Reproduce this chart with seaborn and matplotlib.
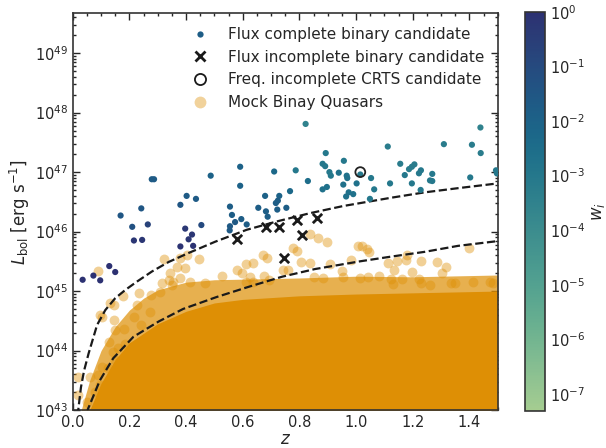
import numpy as np
import matplotlib
matplotlib.use("Agg")
import matplotlib.pyplot as plt
import seaborn as sns
from matplotlib.colors import LogNorm
from matplotlib.lines import Line2D
from matplotlib.ticker import MultipleLocator, LogLocator, NullFormatter
from matplotlib.cm import ScalarMappable

# ---------------- data ----------------
# Flux complete binary candidates: redshift, log10 L_bol, log10 w_i
cand_z = [0.822, 0.279, 0.287, 0.487, 0.591, 0.591, 0.711, 0.787, 0.830, 0.893,
          0.882, 0.891, 0.906, 0.911, 0.939, 0.957, 0.967, 0.969, 0.955, 1.002,
          1.015, 1.053, 1.064, 1.112, 1.120, 1.156, 1.172, 1.187, 1.197, 1.206,
          1.222, 1.229, 1.269, 1.261, 1.269, 1.197, 1.228, 1.310, 1.409, 1.439,
          1.440, 1.403, 1.494, 1.497, 1.049, 0.965, 0.974, 0.990, 0.402, 0.435,
          0.679, 0.729, 0.767, 0.169, 0.210, 0.216, 0.242, 0.245, 0.265, 0.380,
          0.397, 0.380, 0.409, 0.421, 0.425, 0.454, 0.555, 0.562, 0.573, 0.555,
          0.554, 0.595, 0.614, 0.655, 0.682, 0.688, 0.717, 0.724, 0.722, 0.754,
          0.129, 0.150, 0.035, 0.073, 0.097, 0.882, 0.897]
cand_logL = [47.81, 46.88, 46.88, 46.94, 47.09, 46.77, 47.01, 47.03, 46.85, 47.32,
             47.14, 47.10, 47.00, 46.94, 46.99, 47.19, 46.94, 46.90, 46.79, 46.81,
             46.96, 46.90, 46.71, 47.43, 46.81, 47.14, 46.95, 47.05, 47.09, 47.13,
             46.98, 47.03, 46.97, 46.86, 46.85, 46.81, 46.70, 47.47, 47.46, 47.75,
             47.32, 46.91, 47.03, 46.98, 46.55, 46.59, 46.66, 46.63, 46.60, 46.55,
             46.60, 46.60, 46.68, 46.27, 46.08, 45.85, 46.39, 45.86, 46.12, 46.45,
             46.05, 45.75, 45.87, 45.95, 45.76, 46.11, 46.42, 46.28, 46.16, 46.09,
             46.02, 46.21, 46.12, 46.40, 46.34, 46.25, 46.48, 46.52, 46.37, 46.40,
             45.42, 45.32, 45.19, 45.26, 45.18, 46.71, 46.75]
cand_logw = [-3.5, -1.7, -1.7, -2.0, -2.0, -2.0, -2.3, -3.0, -2.5, -3.0,
             -3.0, -3.0, -3.0, -3.0, -2.7, -3.0, -2.7, -2.7, -2.7, -2.7,
             -3.0, -3.0, -3.0, -3.2, -3.0, -3.2, -3.0, -3.2, -3.2, -3.2,
             -3.0, -3.0, -3.0, -3.0, -3.0, -3.0, -3.0, -3.2, -3.2, -3.5,
             -3.2, -3.0, -3.0, -3.0, -3.0, -2.7, -2.7, -2.7, -1.7, -1.7,
             -2.0, -2.0, -2.3, -1.5, -1.3, -0.2, -1.5, -0.2, -0.7, -1.5,
             -0.3, -0.1, -0.2, -0.2, -0.1, -1.0, -1.8, -1.8, -1.6, -1.6,
             -1.6, -1.8, -1.8, -1.8, -1.8, -1.8, -1.8, -1.8, -1.8, -1.8,
             0.0, 0.0, 0.0, 0.0, 0.0, -2.7, -2.7]

# Flux incomplete binary candidates
inc_z = [0.579, 0.681, 0.729, 0.792, 0.862, 0.810, 0.746]
inc_logL = [45.87, 46.08, 46.08, 46.20, 46.22, 45.94, 45.55]

# Frequency incomplete CRTS candidate
crts_z = [1.015]
crts_logL = [47.00]

# Mock binary quasars: individually visible outliers
mock_z = [0.088, 0.323, 0.379, 0.402, 0.447, 0.343, 0.367, 0.396, 0.355, 0.611,
          0.636, 0.672, 0.687, 0.779, 0.793, 0.807, 0.838, 0.867, 0.897, 0.759,
          0.908, 0.981, 1.020, 1.040, 1.047, 1.114, 1.144, 1.197, 1.229, 1.285,
          1.318, 1.400, 1.485, 0.612, 0.635, 0.579, 0.839, 0.597, 0.526, 0.625,
          0.676, 0.694, 0.742, 0.853, 0.885, 0.950, 0.953, 1.008, 1.180, 1.175,
          1.135, 1.305, 1.081, 1.043, 1.014, 1.124, 1.131, 1.163, 1.223, 1.228,
          1.261, 1.334, 1.351, 1.413, 1.472, 0.340, 0.379, 0.414, 0.467, 0.178,
          0.146, 0.102, 0.146, 0.148, 0.180, 0.127, 0.141, 0.186, 0.233, 0.276,
          0.227, 0.274, 0.217, 0.242, 0.307, 0.315, 0.351, 0.132, 0.096, 0.061,
          0.090, 0.102, 0.126, 0.018, 0.052, 0.161, 0.149, 0.020, 0.079, 0.096]
mock_logL = [45.33, 45.54, 45.55, 45.60, 45.54, 45.30, 45.41, 45.38, 45.16, 45.46,
             45.47, 45.60, 45.55, 45.72, 45.68, 45.49, 45.96, 45.90, 45.82, 45.35,
             45.46, 45.52, 45.76, 45.71, 45.66, 45.47, 45.51, 45.32, 45.51, 45.49,
             45.40, 45.72, 45.13, 45.16, 45.16, 45.35, 45.48, 45.31, 45.26, 45.24,
             45.25, 45.19, 45.35, 45.23, 45.22, 45.33, 45.24, 45.76, 45.61, 45.53,
             45.35, 45.30, 45.25, 45.24, 45.22, 45.20, 45.12, 45.20, 45.20, 45.13,
             45.10, 45.14, 45.14, 45.16, 45.16, 45.19, 45.22, 45.15, 45.14, 44.91,
             44.77, 44.56, 44.51, 44.34, 44.36, 44.14, 43.98, 44.11, 44.96, 44.93,
             44.77, 44.65, 44.57, 44.43, 44.99, 45.13, 45.10, 44.80, 44.60, 43.56,
             43.59, 43.73, 43.70, 43.25, 43.14, 44.04, 43.84, 43.56, 43.30, 43.42]

# Mock binary quasars: envelope of the semi-dense band and of the saturated core
band_z = [0.030, 0.06, 0.10, 0.15, 0.20, 0.25, 0.30, 0.40, 0.50, 0.60, 0.80, 1.00, 1.20, 1.50]
band_logL = [43.0, 43.50, 44.00, 44.40, 44.68, 44.88, 45.02, 45.15, 45.19, 45.20, 45.22, 45.25, 45.24, 45.27]
core_z = [0.060, 0.10, 0.15, 0.20, 0.30, 0.40, 0.50, 0.60, 0.80, 1.00, 1.20, 1.50]
core_logL = [43.0, 43.45, 43.85, 44.13, 44.45, 44.66, 44.80, 44.86, 44.92, 44.95, 44.97, 45.00]

# Flux-limit curves (dashed)
lim1_z = [0.017, 0.029, 0.040, 0.056, 0.086, 0.115, 0.150, 0.186, 0.227, 0.280, 0.339,
          0.409, 0.503, 0.614, 0.720, 0.838, 0.955, 1.125, 1.243, 1.360, 1.500]
lim1_logL = [42.90, 43.38, 43.66, 43.95, 44.43, 44.68, 44.88, 45.02, 45.16, 45.33, 45.49,
             45.64, 45.83, 46.03, 46.17, 46.31, 46.43, 46.57, 46.66, 46.73, 46.81]
lim2_z = [0.050, 0.055, 0.096, 0.143, 0.214, 0.304, 0.390, 0.508, 0.620, 0.738, 0.855,
          1.014, 1.125, 1.243, 1.360, 1.500]
lim2_logL = [42.95, 43.03, 43.50, 43.87, 44.23, 44.49, 44.70, 44.90, 45.07, 45.24, 45.37,
             45.50, 45.58, 45.66, 45.76, 45.84]

labels = ["Flux complete binary candidate", "Flux incomplete binary candidate",
          "Freq. incomplete CRTS candidate", "Mock Binay Quasars"]
cbar_ticks = [1e-7, 1e-6, 1e-5, 1e-4, 1e-3, 1e-2, 1e-1, 1e0]

# ---------------- style ----------------
sns.set_theme(style="ticks")
plt.rcParams['font.family'] = ['DejaVu Sans']
plt.rcParams['mathtext.fontset'] = 'dejavusans'
text_col = '#262626'

fig = plt.figure(figsize=(6.06, 4.48), dpi=100)
ax = fig.add_axes([0.12, 0.0848, 0.7013, 0.8855])
cax = fig.add_axes([0.8663, 0.0833, 0.0330, 0.8906])

orange = "#de8f05"
cmap = sns.color_palette("crest", as_cmap=True)
norm = LogNorm(vmin=5e-8, vmax=1.0)

ax.set_yscale('log')

# mock quasars
ax.fill_between(band_z, 1e42, 10 ** np.array(band_logL), color=orange, alpha=0.7,
                linewidth=0, zorder=1)
ax.fill_between(core_z, 1e42, 10 ** np.array(core_logL), color=orange, alpha=1.0,
                linewidth=0, zorder=1.1)
sns.scatterplot(x=mock_z, y=10 ** np.array(mock_logL), color=orange, alpha=0.42, s=50,
                linewidth=0, ax=ax, legend=False, zorder=1.2)

# flux limits
sns.lineplot(x=lim1_z, y=10 ** np.array(lim1_logL), color='k', linestyle='--',
             linewidth=1.6, ax=ax, sort=False, estimator=None, zorder=3)
sns.lineplot(x=lim2_z, y=10 ** np.array(lim2_logL), color='k', linestyle='--',
             linewidth=1.6, ax=ax, sort=False, estimator=None, zorder=3)

# candidates
sns.scatterplot(x=cand_z, y=10 ** np.array(cand_logL), hue=10 ** np.array(cand_logw),
                hue_norm=norm, palette=cmap, s=20, linewidth=0, ax=ax, legend=False,
                zorder=4)
sns.scatterplot(x=inc_z, y=10 ** np.array(inc_logL), marker='x', color='k', s=45,
                linewidth=2.0, ax=ax, legend=False, zorder=5)
ax.scatter(crts_z, 10 ** np.array(crts_logL), s=50, facecolors='none', edgecolors='#222222',
           linewidths=1.3, zorder=5)

ax.set_xlim(0, 1.5)
ax.set_ylim(1e43, 10 ** 49.67)
ax.xaxis.set_major_locator(MultipleLocator(0.2))
ax.xaxis.set_minor_locator(MultipleLocator(0.05))
ax.yaxis.set_major_locator(LogLocator(base=10, numticks=20))
ax.yaxis.set_minor_locator(LogLocator(base=10, subs=np.arange(2, 10), numticks=50))
ax.yaxis.set_minor_formatter(NullFormatter())
ax.tick_params(which='both', direction='in', top=True, right=True, colors=text_col,
               labelsize=10.5, width=1.0)
ax.tick_params(which='major', length=5)
ax.tick_params(which='minor', length=2.5)
for sp in ax.spines.values():
    sp.set_color('#333333')
    sp.set_linewidth(1.2)

ax.set_xlabel('$z$', fontsize=12, color=text_col, labelpad=0)
ax.set_ylabel(r'$L_{\rm bol}$ [erg s$^{-1}$]', fontsize=12, color=text_col, labelpad=2)

# legend
h_col = cmap(norm(10 ** -1.8))
handles = [
    Line2D([], [], marker='o', ls='', color=h_col, markersize=4.5, markeredgewidth=0),
    Line2D([], [], marker='x', ls='', color='k', markersize=6.5, markeredgewidth=2),
    Line2D([], [], marker='o', ls='', markerfacecolor='none', markeredgecolor='k',
           markersize=8, markeredgewidth=1.3),
    Line2D([], [], marker='o', ls='', color=orange, alpha=0.4, markersize=8.5,
           markeredgewidth=0),
]
leg = ax.legend(handles, labels, loc='upper right', frameon=False, fontsize=11,
                labelspacing=0.5, handletextpad=0.8, borderaxespad=0.5)
for t in leg.get_texts():
    t.set_color(text_col)

# colorbar
sm = ScalarMappable(norm=norm, cmap=cmap)
cb = fig.colorbar(sm, cax=cax, ticks=cbar_ticks)
cb.set_label('$w_i$', fontsize=12, color=text_col, labelpad=3)
cax.minorticks_off()
cax.tick_params(length=0, labelsize=10.5, colors=text_col)
cb.outline.set_edgecolor('#333333')
cb.outline.set_linewidth(1.2)

fig.savefig('out.png', dpi=100)
